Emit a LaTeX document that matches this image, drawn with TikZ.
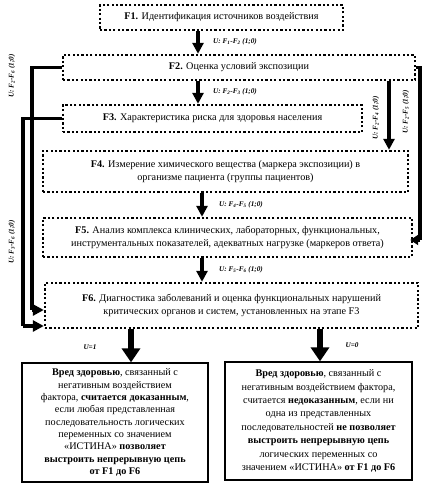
\documentclass[tikz,border=0pt]{standalone}
\usepackage{fontspec}
\setmainfont{Liberation Serif}
\usepackage{tikz}
\usetikzlibrary{arrows.meta}

\begin{document}
\begin{tikzpicture}[x=1pt,y=-1pt,
    stage/.style={draw,line width=2.4pt,dash pattern=on 2.2pt off 2.2pt,
        inner sep=0pt,align=center,font=\fontsize{10.2}{12.5}\selectfont},
    verdict/.style={draw,line width=1.3pt,inner sep=0pt,align=center},
    link/.style={line width=3.4pt,-{Triangle[width=11pt,length=11pt]}},
    bigarrow/.style={line width=5.5pt,-{Triangle[width=18pt,length=14pt]}},
    side/.style={line width=3.4pt},
    cond/.style={font=\fontsize{7.2}{8}\selectfont\bfseries\itshape,inner sep=1pt}]
\useasboundingbox (0,0) rectangle (425,494);

% stages
\node [stage,minimum width=243,minimum height=25] (f1) at (221.5,17.5)
    {\textbf{F1.} Идентификация источников воздействия};
\node [stage,minimum width=352,minimum height=25] (f2) at (239,67.5)
    {\textbf{F2.} Оценка условий экспозиции};
\node [stage,minimum width=299,minimum height=27] (f3) at (212.5,118.5)
    {\textbf{F3.} Характеристика риска для здоровья населения};
\node [stage,minimum width=365,minimum height=41] (f4) at (225.5,171.5)
    {\textbf{F4.} Измерение химического вещества (маркера экспозиции) в\\
     организме пациента (группы пациентов)};
\node [stage,minimum width=369,minimum height=39] (f5) at (227.5,237.5)
    {\textbf{F5.} Анализ комплекса клинических, лабораторных, функциональных,\\
     инструментальных показателей, адекватных нагрузке (маркеров ответа)};
\node [stage,minimum width=373,minimum height=45] (f6) at (231.5,305.5)
    {\textbf{F6.} Диагностика заболеваний и оценка функциональных нарушений\\
     критических органов и систем, установленных на этапе F3};

% verdicts
\node [verdict,minimum width=186,minimum height=119,
       font=\fontsize{10.2}{12.3}\selectfont] (yes) at (115,422.5)
    {\textbf{Вред здоровью}, связанный с\\
     негативным воздействием\\
     фактора, \textbf{считается доказанным},\\
     если любая представленная\\
     последовательность логических\\
     переменных со значением\\
     «ИСТИНА» \textbf{позволяет}\\
     \textbf{выстроить непрерывную цепь}\\
     \textbf{от F1 до F6}};
\node [verdict,minimum width=187,minimum height=118,
       font=\fontsize{10.2}{13.4}\selectfont] (no) at (318.5,421)
    {\textbf{Вред здоровью}, связанный с\\
     негативным воздействием фактора,\\
     считается \textbf{недоказанным}, если ни\\
     одна из представленных\\
     последовательностей \textbf{не позволяет}\\
     \textbf{выстроить непрерывную цепь}\\
     логических переменных со\\
     значением «ИСТИНА» \textbf{от F1 до F6}};

% turning points
\coordinate (mid) at (198,0);
\coordinate (low) at (202,0);
\coordinate (in2) at (32,0);
\coordinate (out3) at (23,0);
\coordinate (in4) at (389,0);
\coordinate (out5) at (420,0);
\coordinate (hit6a) at (0,310);
\coordinate (hit6b) at (0,326);
\coordinate (hit5) at (0,240);
\coordinate (yesx) at (131,0);
\coordinate (nox) at (320,0);

% straight links
\draw [link] (f1.south -| mid) -- (f2.north -| mid);
\draw [link] (f2.south -| mid) -- (f3.north -| mid);
\draw [link] (f4.south -| low) -- (f5.north -| low);
\draw [link] (f5.south -| low) -- (f6.north -| low);
\draw [link] (f2.south -| in4) -- (f4.north -| in4);
\draw [bigarrow] (f6.south -| yesx) -- (yes.north -| yesx);
\draw [bigarrow] (f6.south -| nox) -- (no.north -| nox);

% side links
\draw [side] (f2.west) -- (f2.west -| in2) -- (hit6a -| in2);
\draw [link] (hit6a -| in2) -- (hit6a -| f6.west);
\draw [side] (f3.west) -- (f3.west -| out3) -- (hit6b -| out3);
\draw [link] (hit6b -| out3) -- (hit6b -| f6.west);
\draw [side] (f2.east) -- (f2.east -| out5) -- (hit5 -| out5);
\draw [side,-{Triangle[width=10pt,length=8pt]}] (hit5 -| out5) -- ([xshift=-3pt]hit5 -| f5.east);

% conditions
\node [cond,anchor=west] (c12) at (212,42) {U: F\textsubscript{1}-F\textsubscript{2} (1;0)};
\node [cond,anchor=west] (c23) at (212,92) {U: F\textsubscript{2}-F\textsubscript{3} (1;0)};
\node [cond,anchor=west] (c45) at (218,205) {U: F\textsubscript{4}-F\textsubscript{5} (1;0)};
\node [cond,anchor=west] (c56) at (218,270) {U: F\textsubscript{5}-F\textsubscript{6} (1;0)};
\node [cond,rotate=90] (c26) at (12,76) {U: F\textsubscript{2}-F\textsubscript{6} (1;0)};
\node [cond,rotate=90] (c36) at (12,242) {U: F\textsubscript{3}-F\textsubscript{6} (1;0)};
\node [cond,rotate=90] (c24) at (376,118) {U: F\textsubscript{2}-F\textsubscript{4} (1;0)};
\node [cond,rotate=90] (c25) at (406,112) {U: F\textsubscript{2}-F\textsubscript{5} (1;0)};
\node [cond] (u1) at (90,347) {U=1};
\node [cond] (u0) at (352,345) {U=0};

\end{tikzpicture}
\end{document}
